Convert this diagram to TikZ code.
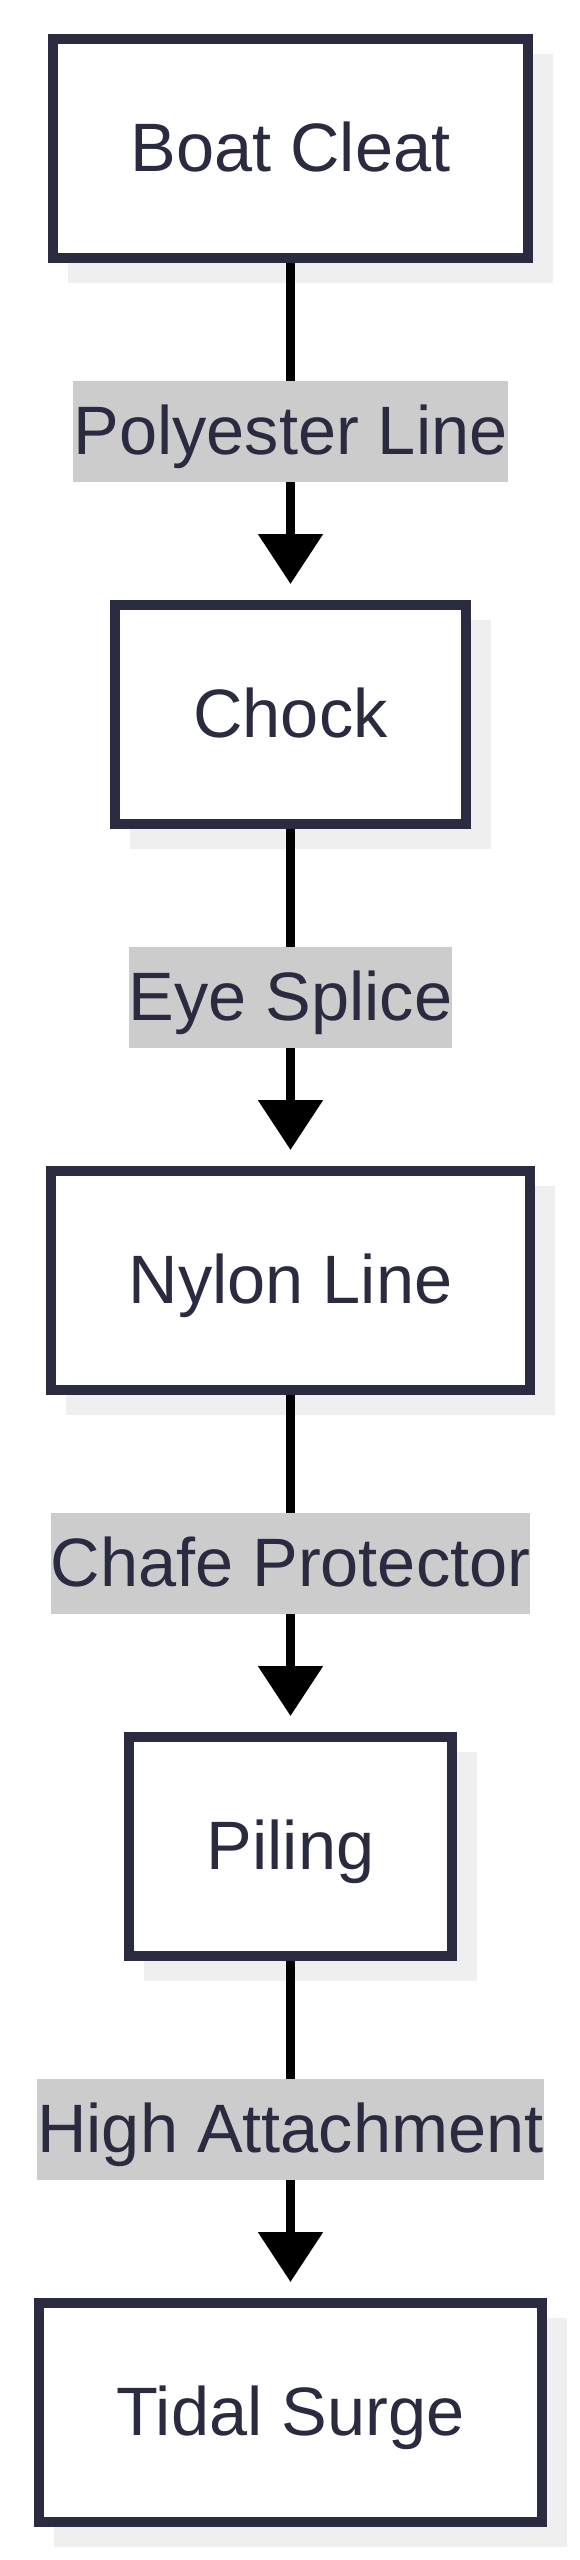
\documentclass[tikz,border=0pt]{standalone}
\usepackage{fontspec}
\setmainfont{Liberation Sans}
\usetikzlibrary{arrows.meta,shadows}
\definecolor{inkblue}{HTML}{2A2A40}
\definecolor{labelgray}{HTML}{CCCCCC}
\definecolor{shadowgray}{HTML}{EFEFEF}

\begin{document}
\begin{tikzpicture}[x=1pt,y=-1pt,
        mybox/.style={draw=inkblue,line width=10pt,fill=white,text=inkblue,
            inner xsep=78pt,minimum height=219pt,
            font=\fontsize{68.5}{82}\selectfont,text height=55pt,text depth=10pt,
            drop shadow={shadow xshift=20pt,shadow yshift=-20pt,fill=shadowgray,draw=shadowgray,opacity=1}},
        mylabel/.style={fill=labelgray,text=inkblue,inner xsep=0pt,inner ysep=18pt,
            font=\fontsize{68.5}{82}\selectfont,text height=55pt,text depth=10pt},
        myarrow/.style={line width=9pt,-{Triangle[width=63pt,length=50pt]},shorten >=16pt}]

        %page
        \path[use as bounding box,fill=white] (0,0) rectangle (580,2560);

        %label state
        \node[mybox] (cleat) at (290.5,148.5) {Boat Cleat};
        \node[mybox] (chock) at (290.5,714.5) {Chock};
        \node[mybox] (nylon) at (290.5,1280.5) {Nylon Line};
        \node[mybox] (piling) at (290.5,1846.5) {Piling};
        \node[mybox] (surge) at (290.5,2412.5) {Tidal Surge};

        %vertical arrow
        \draw [myarrow] (cleat) -- node[mylabel] (poly) {Polyester Line} (chock);
        \draw [myarrow] (chock) -- node[mylabel] (splice) {Eye Splice} (nylon);
        \draw [myarrow] (nylon) -- node[mylabel] (chafe) {Chafe Protector} (piling);
        \draw [myarrow] (piling) -- node[mylabel] (high) {High Attachment} (surge);
\end{tikzpicture}
\end{document}
